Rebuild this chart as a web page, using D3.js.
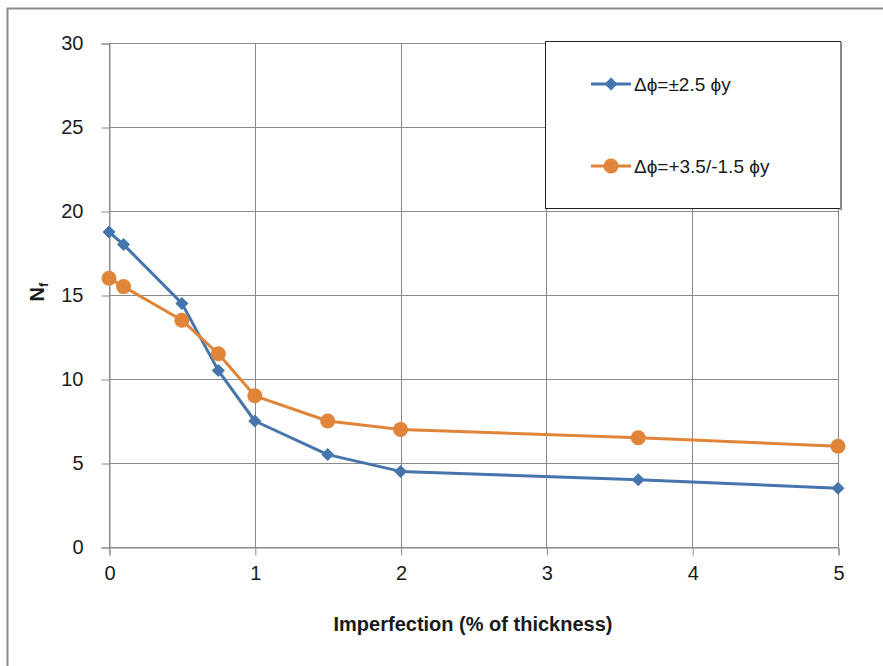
<!DOCTYPE html>
<html>
<head>
<meta charset="utf-8">
<script src="https://cdn.jsdelivr.net/npm/d3@7"></script>
<style>
  html, body { margin: 0; padding: 0; background: #fff; }
  svg { display: block; }
  text { font-family: "Liberation Sans", Arial, sans-serif; fill: #1a1a1a; }
</style>
</head>
<body>
<svg id="chart" width="883" height="666"></svg>
<script>
const xValues = [0, 0.1, 0.5, 0.75, 1, 1.5, 2, 3.63, 5];
const seriesA = [18.75, 18, 14.5, 10.5, 7.5, 5.5, 4.5, 4, 3.5];
const seriesB = [16, 15.5, 13.5, 11.5, 9, 7.5, 7, 6.5, 6];
const seriesNames = ["Δϕ=±2.5 ϕy", "Δϕ=+3.5/-1.5 ϕy"];
const xTicks = [0, 1, 2, 3, 4, 5];
const yTicks = [0, 5, 10, 15, 20, 25, 30];
const colors = ["#4674ad", "#e0843a"];

const svg = d3.select("#chart");
const x = d3.scaleLinear().domain([0, 5]).range([109, 838]);
const y = d3.scaleLinear().domain([0, 30]).range([547, 43]);

// outer chart border
svg.append("rect").attr("x", 7.5).attr("y", 8.5).attr("width", 900).attr("height", 700)
  .attr("fill", "none").attr("stroke", "#8c8c8c").attr("stroke-width", 2);

// gridlines
const grid = svg.append("g");
grid.selectAll(".hg").data(yTicks).enter().append("line")
  .attr("x1", x(0)).attr("x2", x(5))
  .attr("y1", d => Math.round(y(d)) + 0.5).attr("y2", d => Math.round(y(d)) + 0.5)
  .attr("stroke", "#8a8a8a").attr("stroke-width", 1);
grid.selectAll(".vg").data(xTicks).enter().append("line")
  .attr("y1", y(30)).attr("y2", y(0))
  .attr("x1", d => Math.round(x(d)) + 0.5).attr("x2", d => Math.round(x(d)) + 0.5)
  .attr("stroke", "#8a8a8a").attr("stroke-width", 1);

// axes
const xAxis = d3.axisBottom(x).tickValues(xTicks).tickSize(8).tickPadding(10).tickFormat(d3.format("d"));
const yAxis = d3.axisLeft(y).tickValues(yTicks).tickSize(8).tickPadding(18).tickFormat(d3.format("d"));
const gx = svg.append("g").attr("transform", `translate(0.5,${Math.round(y(0)) + 0.5})`).call(xAxis);
const gy = svg.append("g").attr("transform", `translate(${Math.round(x(0)) + 0.5},0.5)`).call(yAxis);
[gx, gy].forEach(g => {
  g.select(".domain").attr("stroke", "#8a8a8a");
  g.selectAll(".tick line").attr("stroke", "#8a8a8a");
  g.selectAll(".tick text").attr("font-size", 20).attr("fill", "#1a1a1a")
    .attr("font-family", "'Liberation Sans', Arial, sans-serif");
});

// axis titles
svg.append("text").attr("x", 473).attr("y", 631).attr("text-anchor", "middle")
  .attr("font-size", 20).attr("font-weight", "bold").text("Imperfection (% of thickness)");
const yt = svg.append("text").attr("transform", "translate(44,292) rotate(-90)")
  .attr("text-anchor", "middle").attr("font-size", 20).attr("font-weight", "bold");
yt.append("tspan").text("N");
yt.append("tspan").attr("font-size", 13).attr("dy", 4).text("f");

// series
const data = [seriesA, seriesB].map(s => s.map((v, i) => [xValues[i], v]));
const line = d3.line().x(d => x(d[0])).y(d => y(d[1]));
const diamond = d3.symbol().type(d3.symbolSquare).size(85);

data.forEach((s, k) => {
  svg.append("path").datum(s).attr("d", line).attr("fill", "none")
    .attr("stroke", colors[k]).attr("stroke-width", 3).attr("stroke-linejoin", "round");
});
svg.append("g").selectAll("path").data(data[0]).enter().append("path")
  .attr("transform", d => `translate(${x(d[0])},${y(d[1])}) rotate(45)`)
  .attr("d", diamond).attr("fill", colors[0]);
svg.append("g").selectAll("circle").data(data[1]).enter().append("circle")
  .attr("cx", d => x(d[0])).attr("cy", d => y(d[1])).attr("r", 7.5).attr("fill", colors[1]);

// legend
const lg = svg.append("g");
lg.append("rect").attr("x", 545.5).attr("y", 41.5).attr("width", 295).attr("height", 167)
  .attr("fill", "#fff").attr("stroke", "#222").attr("stroke-width", 1);
lg.append("line").attr("x1", 841).attr("x2", 841).attr("y1", 42).attr("y2", 210)
  .attr("stroke", "#888").attr("stroke-width", 2);
const ly = [84, 166];
seriesNames.forEach((name, k) => {
  lg.append("line").attr("x1", 591).attr("x2", 631).attr("y1", ly[k]).attr("y2", ly[k])
    .attr("stroke", colors[k]).attr("stroke-width", 3);
  if (k === 0) {
    lg.append("path").attr("transform", `translate(611,${ly[k]}) rotate(45)`).attr("d", diamond).attr("fill", colors[k]);
  } else {
    lg.append("circle").attr("cx", 611).attr("cy", ly[k]).attr("r", 7.5).attr("fill", colors[k]);
  }
  lg.append("text").attr("x", 634).attr("y", ly[k] + 7).attr("font-size", 19).text(name);
});
</script>
</body>
</html>
